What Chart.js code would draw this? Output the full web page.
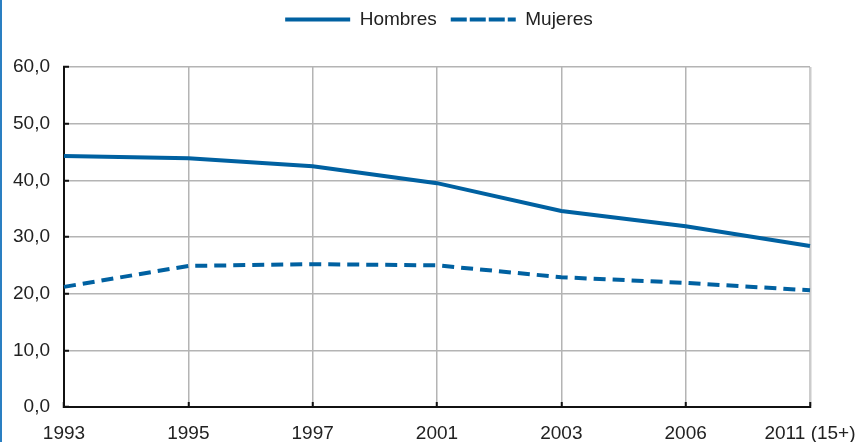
<!DOCTYPE html>
<html>
<head>
<meta charset="utf-8">
<script src="https://cdn.jsdelivr.net/npm/chart.js@4"></script>
<style>
  html, body { margin: 0; padding: 0; background: #fff; }
  #wrap { position: relative; width: 863px; height: 442px; }
  #bar { position: absolute; left: 0; top: 0; width: 2px; height: 442px; background: #2a7fc2; }
</style>
</head>
<body>
<div id="wrap">
  <div id="bar"></div>
  <canvas id="myChart" width="863" height="442"></canvas>
</div>
<script>
const years = ["1993", "1995", "1997", "2001", "2003", "2006", "2011 (15+)"];
const hombres = [44.3, 43.9, 42.5, 39.5, 34.6, 31.9, 28.4];
const mujeres = [21.2, 24.9, 25.2, 25.0, 22.9, 21.9, 20.6];
const yTicks = [0, 10, 20, 30, 40, 50, 60];

const blue = "#0061a1";
const font = { family: "Liberation Sans", size: 19 };

// legend a bit taller (gap under it) and moved to the right like the original
const legendTweak = {
  id: "legendTweak",
  beforeInit(chart) {
    const lg = chart.legend;
    const fit = lg.fit.bind(lg);
    lg.fit = () => {
      fit();
      lg.height = 71;
    };
  },
  afterLayout(chart) {
    chart.legend.left += 34;
    chart.legend.right += 34;
  },
};

const config = {
  type: "line",
  data: {
    labels: years,
    datasets: [
      {
        label: "Hombres",
        data: hombres,
        borderColor: blue,
        backgroundColor: blue,
        borderWidth: 4,
        pointRadius: 0,
        tension: 0,
      },
      {
        label: "Mujeres",
        data: mujeres,
        borderColor: blue,
        backgroundColor: blue,
        borderWidth: 4,
        borderDash: [12, 7],
        pointRadius: 0,
        tension: 0,
      },
    ],
  },
  options: {
    responsive: false,
    animation: false,
    layout: { padding: { top: -4, right: 53, left: 0, bottom: 0 } },
    plugins: {
      tooltip: { enabled: false },
      legend: {
        position: "top",
        labels: {
          boxWidth: 65,
          boxHeight: 0,
          padding: 14,
          color: "#222",
          font: font,
        },
      },
    },
    scales: {
      x: {
        offset: false,
        afterFit: (scale) => {
          scale.height = 35;
          scale.paddingLeft = 0;
          scale.paddingRight = 0;
        },
        grid: {
          color: (c) => (c.index === years.length - 1 ? "#cccccc" : "#b4b4b4"),
          lineWidth: (c) => (c.index === years.length - 1 ? 2.5 : 1.5),
          tickColor: "#111",
          tickLength: -5,
          tickWidth: 2,
        },
        border: { color: "#111", width: 2 },
        ticks: {
          color: "#222",
          padding: 20,
          maxRotation: 0,
          autoSkip: false,
          font: font,
        },
      },
      y: {
        min: 0,
        max: 60,
        afterBuildTicks: (scale) => {
          scale.ticks = yTicks.map((v) => ({ value: v }));
        },
        afterFit: (scale) => {
          scale.width = 64;
        },
        grid: {
          color: "#b4b4b4",
          lineWidth: 1.5,
          tickColor: "#111",
          tickLength: -5,
          tickWidth: 2,
        },
        border: { color: "#111", width: 2 },
        ticks: {
          color: "#222",
          padding: 19,
          font: font,
          callback: (v) => v.toFixed(1).replace(".", ","),
        },
      },
    },
  },
  plugins: [legendTweak],
};

const ctx = document.getElementById("myChart").getContext("2d");
const myChart = new Chart(ctx, config);
</script>
</body>
</html>
